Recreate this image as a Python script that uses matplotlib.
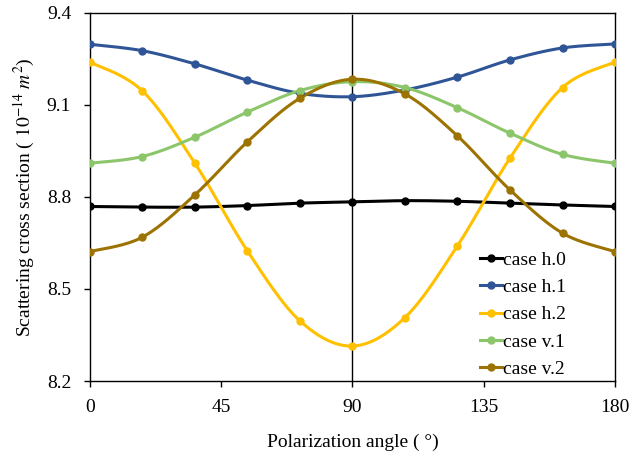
import numpy as np
import matplotlib.pyplot as plt

angle = [0, 18, 36, 54, 72, 90, 108, 126, 144, 162, 180]
h0 = [8.769, 8.767, 8.767, 8.772, 8.780, 8.784, 8.788, 8.786, 8.780, 8.774, 8.769]
h1 = [9.298, 9.277, 9.234, 9.181, 9.138, 9.127, 9.149, 9.191, 9.247, 9.286, 9.299]
h2 = [9.240, 9.146, 8.910, 8.624, 8.396, 8.314, 8.407, 8.641, 8.927, 9.157, 9.240]
v1 = [8.910, 8.932, 8.995, 9.077, 9.147, 9.176, 9.157, 9.091, 9.008, 8.939, 8.910]
v2 = [8.622, 8.669, 8.807, 8.980, 9.122, 9.184, 9.136, 8.999, 8.823, 8.682, 8.622]

series = [("case h.0", h0, "#000000"),
          ("case h.1", h1, "#2F5597"),
          ("case h.2", h2, "#FFC000"),
          ("case v.1", v1, "#8CC66A"),
          ("case v.2", v2, "#9C7300")]

plt.rcParams['font.family'] = ['Liberation Serif', 'DejaVu Serif']
plt.rcParams['mathtext.fontset'] = 'stix'


def smooth(x, y, n=30):
    # bezier smoothing through the points, like excel's smoothed lines
    x = np.asarray(x, float)
    y = np.asarray(y, float)
    px = np.concatenate([[x[0]], x, [x[-1]]])
    py = np.concatenate([[y[0]], y, [y[-1]]])
    t = np.linspace(0, 1, n)
    xs, ys = [], []
    for i in range(1, len(px) - 2):
        p0 = np.array([px[i - 1], py[i - 1]])
        p1 = np.array([px[i], py[i]])
        p2 = np.array([px[i + 1], py[i + 1]])
        p3 = np.array([px[i + 2], py[i + 2]])
        b1 = p1 + (p2 - p0) / 6
        b2 = p2 - (p3 - p1) / 6
        c = ((1 - t) ** 3)[:, None] * p1 + (3 * (1 - t) ** 2 * t)[:, None] * b1 \
            + (3 * (1 - t) * t ** 2)[:, None] * b2 + (t ** 3)[:, None] * p2
        xs.append(c[:, 0])
        ys.append(c[:, 1])
    return np.concatenate(xs), np.concatenate(ys)


fig = plt.figure(figsize=(6.42, 4.57), dpi=100)
ax = fig.add_axes([0.140, 0.1663, 0.818, 0.8053])

ax.axvline(90, ymax=0.995, color='black', lw=1.0, zorder=1)

for name, vals, col in series:
    sx, sy = smooth(angle, vals)
    ax.plot(sx, sy, color=col, lw=2.2, zorder=2)
    ax.plot(angle, vals, 'o', color=col, ms=5, zorder=3)
    ax.plot([], [], '-o', color=col, lw=2.2, ms=5, label=name)

ax.set_xlim(0, 180)
ax.set_ylim(8.2, 9.4)
ax.set_xticks([0, 45, 90, 135, 180])
ax.set_yticks([8.2, 8.5, 8.8, 9.1, 9.4])
ax.set_yticklabels(["8.2", "8.5", "8.8", "9.1", "9.4"])
ax.tick_params(axis='x', direction='out', length=4, width=1, labelsize=14, pad=9)
ax.tick_params(axis='y', direction='out', length=4.5, width=1, labelsize=14, pad=9)
for s in ax.spines.values():
    s.set_linewidth(1.0)

ax.set_xlabel("Polarization angle ( °)", fontsize=14, labelpad=13)
ax.set_ylabel(r"Scattering cross section ( $10^{-14}\ m^2$)", fontsize=14, labelpad=7)

ax.legend(loc='upper left', bbox_to_anchor=(0.743, 0.353), frameon=False, fontsize=14,
          handlelength=1.13, handletextpad=0.05, labelspacing=0.5,
          borderaxespad=0, borderpad=0)

plt.savefig("out.png", dpi=100)
